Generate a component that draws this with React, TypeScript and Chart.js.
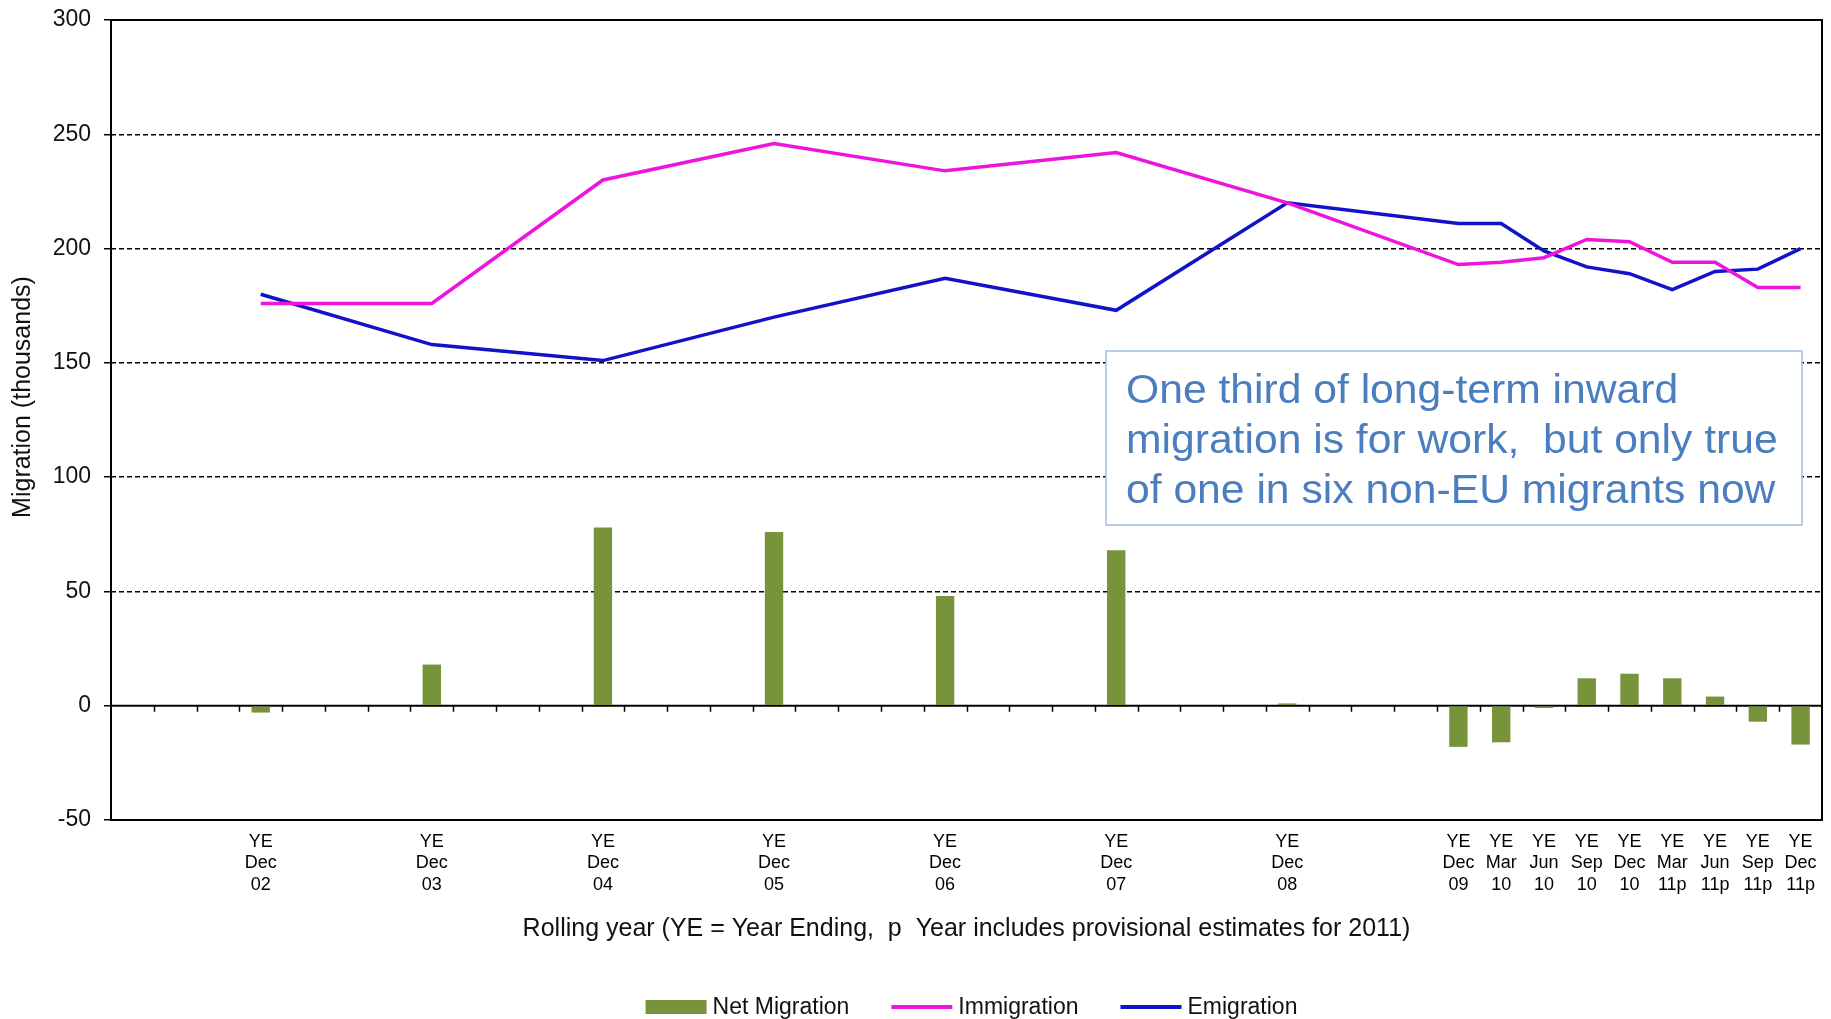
import { useEffect, useRef } from "react";
import { Chart, registerables } from "chart.js";

Chart.register(...registerables);

// Rolling-year periods with published estimates (p = provisional)
const periods = [
  "Dec 02", "Dec 03", "Dec 04", "Dec 05", "Dec 06", "Dec 07", "Dec 08",
  "Dec 09", "Mar 10", "Jun 10", "Sep 10", "Dec 10",
  "Mar 11p", "Jun 11p", "Sep 11p", "Dec 11p",
];

// Thousands
const immigration = [176, 176, 230, 246, 234, 242, 220, 193, 194, 196, 204, 203, 194, 194, 183, 183];
const emigration = [180, 158, 151, 170, 187, 173, 220, 211, 211, 199, 192, 189, 182, 190, 191, 200];
const netMigration = [-3, 18, 78, 76, 48, 68, 1, -18, -16, -1, 12, 14, 12, 4, -7, -17];

// Quarterly timeline used as the category axis
const quarterMonths = ["Mar", "Jun", "Sep", "Dec"];
const firstYear = 2;
const lastYear = 11;

const yMin = -50;
const yMax = 300;
const yStep = 50;

const seriesNames = ["Net Migration", "Immigration", "Emigration"];
const calloutLines = [
  "One third of long-term inward",
  "migration is for work,  but only true",
  "of one in six non-EU migrants now",
];
const yTitle = "Migration (thousands)";
const xTitle = "Rolling year (YE = Year Ending,  p  Year includes provisional estimates for 2011)";

const FONT = "'Liberation Sans', Arial, sans-serif";
const GREEN = "#77933C";
const PINK = "#EE14DE";
const BLUE = "#1212C8";

const LEGEND_SPACE = 75;
const X_AXIS_HEIGHT = 124;

const pad2 = (n: number) => (n < 10 ? "0" + n : String(n));

const timeline: string[] = [];
for (let yr = firstYear; yr <= lastYear; yr++) {
  for (const m of quarterMonths) timeline.push(`${m} ${pad2(yr)}`);
}

const periodIndex = (p: string) => {
  const [m, y] = p.split(" ");
  return (parseInt(y, 10) - firstYear) * 4 + quarterMonths.indexOf(m);
};

const spread = (values: number[]) => {
  const out: (number | null)[] = timeline.map(() => null);
  periods.forEach((p, i) => {
    out[periodIndex(p)] = values[i];
  });
  return out;
};

const tickLines: (string[] | string)[] = timeline.map(() => "");
periods.forEach((p) => {
  const [m, y] = p.split(" ");
  tickLines[periodIndex(p)] = ["YE", m, y];
});

const chromePlugin = {
  id: "chrome",
  beforeDatasetsDraw(chart: any) {
    const { ctx, chartArea: a, scales } = chart;
    const x = scales.x;
    const y = scales.y;
    const y0 = y.getPixelForValue(0);
    ctx.save();
    ctx.strokeStyle = "#000";
    ctx.lineWidth = 2;
    ctx.beginPath();
    ctx.moveTo(a.left, y0);
    ctx.lineTo(a.right, y0);
    ctx.stroke();
    // quarter tick marks on the zero line
    ctx.lineWidth = 1.5;
    ctx.beginPath();
    for (let i = 1; i < timeline.length; i++) {
      const px = Math.round((x.getPixelForValue(i - 1) + x.getPixelForValue(i)) / 2) + 0.5;
      ctx.moveTo(px, y0);
      ctx.lineTo(px, y0 + 6);
    }
    ctx.stroke();
    ctx.restore();
  },
  afterDatasetsDraw(chart: any) {
    const { ctx, chartArea: a } = chart;
    ctx.save();
    // plot frame
    ctx.strokeStyle = "#000";
    ctx.lineWidth = 2;
    ctx.strokeRect(a.left, a.top, a.right - a.left, a.bottom - a.top);

    // callout box
    const bx = 1106, by = 351, bw = 696, bh = 174;
    ctx.fillStyle = "#fff";
    ctx.fillRect(bx, by, bw, bh);
    ctx.strokeStyle = "#A4BEDF";
    ctx.lineWidth = 1.5;
    ctx.strokeRect(bx, by, bw, bh);
    ctx.fillStyle = "#4A7EBF";
    ctx.font = `40px ${FONT}`;
    ctx.textBaseline = "alphabetic";
    ctx.textAlign = "left";
    calloutLines.forEach((line, i) => {
      ctx.save();
      ctx.translate(bx + 20, by + 52 + i * 50);
      ctx.scale(1.066, 1);
      ctx.fillText(line, 0, 0);
      ctx.restore();
    });
    ctx.restore();
  },
  afterDraw(chart: any) {
    const { ctx, chartArea: a } = chart;
    ctx.save();

    // y-axis title
    ctx.save();
    ctx.translate(23, 397);
    ctx.rotate(-Math.PI / 2);
    ctx.font = `25px ${FONT}`;
    ctx.fillStyle = "#111";
    ctx.textAlign = "center";
    ctx.textBaseline = "middle";
    ctx.fillText(yTitle, 0, 0);
    ctx.restore();

    // legend
    ctx.font = `23px ${FONT}`;
    ctx.textBaseline = "middle";
    ctx.textAlign = "left";
    const sw = 61, gapText = 6, gapItem = 42;
    const widths = seriesNames.map((t) => ctx.measureText(t).width);
    const total = widths.reduce((s, w) => s + w + sw + gapText, 0) + gapItem * (seriesNames.length - 1);
    let cx = (a.left + a.right) / 2 + 5 - total / 2;
    const cy = 1007;
    const colors = [GREEN, PINK, BLUE];
    seriesNames.forEach((t, i) => {
      if (i === 0) {
        ctx.fillStyle = colors[i];
        ctx.fillRect(cx, cy - 7, sw, 14);
      } else {
        ctx.strokeStyle = colors[i];
        ctx.lineWidth = 4;
        ctx.beginPath();
        ctx.moveTo(cx, cy);
        ctx.lineTo(cx + sw, cy);
        ctx.stroke();
      }
      ctx.fillStyle = "#111";
      ctx.fillText(t, cx + sw + gapText, cy + 1);
      cx += sw + gapText + widths[i] + gapItem;
    });
    ctx.restore();
  },
};

export default function App() {
  const canvasRef = useRef<HTMLCanvasElement | null>(null);

  useEffect(() => {
    document.body.style.margin = "0";
    const canvas = canvasRef.current;
    if (!canvas) return;
    const chart = new Chart(canvas, {
      type: "bar",
      data: {
        labels: timeline,
        datasets: [
          {
            type: "line",
            label: seriesNames[1],
            data: spread(immigration),
            borderColor: PINK,
            backgroundColor: PINK,
            borderWidth: 3.5,
            pointRadius: 0,
            spanGaps: true,
            tension: 0,
            order: 0,
          },
          {
            type: "line",
            label: seriesNames[2],
            data: spread(emigration),
            borderColor: BLUE,
            backgroundColor: BLUE,
            borderWidth: 3.5,
            pointRadius: 0,
            spanGaps: true,
            tension: 0,
            order: 1,
          },
          {
            type: "bar",
            label: seriesNames[0],
            data: spread(netMigration),
            backgroundColor: GREEN,
            categoryPercentage: 1,
            barPercentage: 0.43,
            order: 2,
          },
        ],
      },
      options: {
        responsive: false,
        animation: false,
        layout: { padding: { top: 20, right: 9, bottom: LEGEND_SPACE, left: 0 } },
        plugins: {
          legend: { display: false },
          tooltip: { enabled: false },
        },
        scales: {
          x: {
            type: "category",
            offset: true,
            afterFit: (scale: any) => {
              scale.height = X_AXIS_HEIGHT;
            },
            grid: { display: false, drawTicks: false },
            border: { display: false },
            ticks: {
              autoSkip: false,
              maxRotation: 0,
              minRotation: 0,
              padding: 11,
              color: "#000",
              font: { family: FONT, size: 18, lineHeight: 1.2 },
              callback: (_v: any, i: number) => tickLines[i],
            },
            title: {
              display: true,
              text: xTitle,
              color: "#111",
              font: { family: FONT, size: 25, lineHeight: 1.2 },
              padding: { top: 18, bottom: 0 },
            },
          },
          y: {
            min: yMin,
            max: yMax,
            afterFit: (scale: any) => {
              scale.width = 111;
              scale.paddingTop = 0;
              scale.paddingBottom = 0;
            },
            ticks: {
              stepSize: yStep,
              padding: 13,
              color: "#111",
              font: { family: FONT, size: 23 },
            },
            grid: {
              color: (c: any) => {
                const v = c.tick ? c.tick.value : null;
                return v !== null && v > 0 && v < yMax ? "#000" : "rgba(0,0,0,0)";
              },
              lineWidth: 1.5,
              drawTicks: true,
              tickLength: 7,
              tickColor: "#000",
              tickWidth: 1.5,
            },
            border: { display: false, dash: [5, 3] },
            title: { display: false },
          },
        },
      },
      plugins: [chromePlugin],
    });
    return () => chart.destroy();
  }, []);

  return <canvas ref={canvasRef} width={1831} height={1019} style={{ display: "block" }} />;
}
